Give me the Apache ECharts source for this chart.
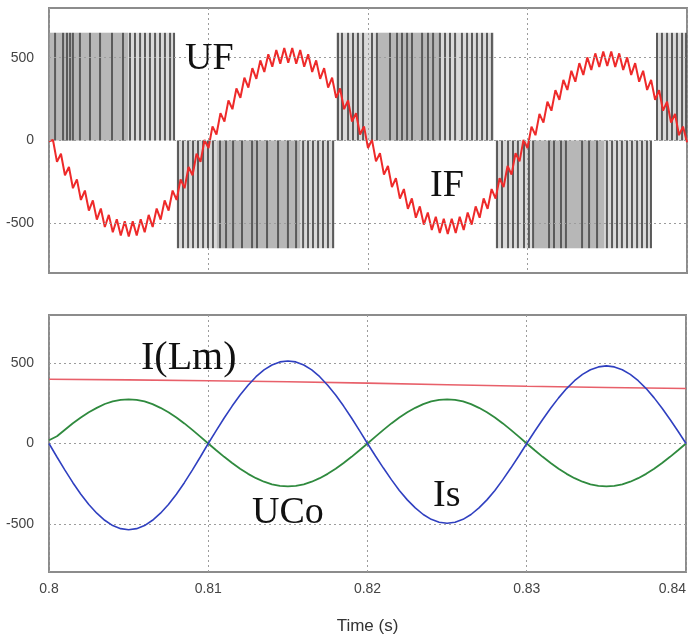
<!DOCTYPE html>
<html>
<head>
<meta charset="utf-8">
<script src="https://cdn.jsdelivr.net/npm/echarts@6/dist/echarts.min.js"></script>
<style>
html, body { margin: 0; padding: 0; background: #fff; }
#main { width: 689px; height: 637px; }
</style>
</head>
<body>
<div id="main"></div>
<script>
// time base of the sampled waveforms
const tStart = 0.8;
const tEnd = 0.84;
const ifStep = 0.00025;
const slowStep = 0.0005;
const yTicks = [-500, 0, 500];

// UF: pwm half cycles [start, end, level] and the dense middle parts
const ufLevel = 650;
const ufBlocks = [
    [0.8, 0.8079, 650],
    [0.8080, 0.8179, -650],
    [0.8180, 0.8279, 650],
    [0.8280, 0.8378, -650],
    [0.8381, 0.84, 650]
];
const ufDense = [
    [0.8, 0.80495, 650],
    [0.81053, 0.81574, -650],
    [0.82063, 0.82451, 650],
    [0.83041, 0.83480, -650]
];
// pulse edges (s)
const ufPulsePos = [
    0.80038, 0.80088, 0.80113, 0.80132, 0.8015, 0.80194, 0.80257, 0.8032, 0.80395, 0.80464,
    0.80508, 0.80539, 0.80571, 0.80602, 0.80633, 0.80665, 0.80696, 0.80727, 0.80759, 0.80784,
    0.81812, 0.81837, 0.81875, 0.81906, 0.81937, 0.81969, 0.82025, 0.82056, 0.82138, 0.82182,
    0.82213, 0.82245, 0.82276, 0.82339, 0.82376, 0.82408, 0.82451, 0.82483, 0.82514, 0.82546,
    0.82589, 0.82621, 0.82652, 0.82683, 0.82715, 0.82746, 0.82777,
    0.83812, 0.83843, 0.83875, 0.83906, 0.83937, 0.83969, 0.83994
];
const ufPulseNeg = [
    0.80809, 0.8084, 0.80872, 0.80903, 0.80934, 0.80966, 0.80997, 0.81028, 0.81072, 0.8111,
    0.81154, 0.8121, 0.81273, 0.81304, 0.81367, 0.81436, 0.81498, 0.81549, 0.81593, 0.81624,
    0.81655, 0.81687, 0.81718, 0.81749, 0.81781,
    0.82809, 0.8284, 0.82878, 0.82909, 0.8294, 0.82978, 0.83009, 0.83035, 0.83135, 0.83166,
    0.8321, 0.83241, 0.83342, 0.83386, 0.83436, 0.83498, 0.8353, 0.83561, 0.83592, 0.83624,
    0.83655, 0.83687, 0.83718, 0.83749, 0.83774
];

// IF, one value every ifStep
const ifValues = [
    -5, 3, -129, -80, -210, -160, -288, -235, -359, -302, -423,
    -362, -478, -411, -522, -449, -554, -475, -573, -488, -580,
    -488, -573, -475, -554, -449, -522, -411, -478, -362, -423,
    -302, -359, -235, -288, -160, -210, -80, -129, 3, -45,
    85, 36, 165, 114, 242, 189, 314, 258, 379, 319,
    437, 372, 484, 414, 521, 445, 546, 464, 558, 470,
    558, 464, 546, 445, 521, 414, 484, 372, 437, 319,
    379, 258, 314, 189, 242, 114, 165, 36, 85, -45,
    4, -126, -76, -206, -154, -281, -227, -351, -293, -413,
    -350, -466, -398, -508, -435, -540, -461, -559, -473, -565,
    -473, -559, -461, -540, -435, -508, -398, -466, -350, -413,
    -293, -351, -227, -281, -154, -206, -76, -126, 4, -45,
    84, 32, 161, 108, 234, 180, 304, 246, 366, 305,
    421, 355, 467, 396, 502, 426, 526, 444, 538, 450,
    538, 444, 526, 426, 502, 396, 467, 355, 421, 305,
    366, 246, 304, 180, 234, 108, 161, 32, 84, -10
];

// Is and UCo, one value every slowStep
const isValues = [
    0, -84, -166, -244, -316, -380, -434, -478, -511, -530, -537, -530, -511, -478, -434, -380, -316, -244, -166, -84, 0,
    80, 159, 233, 302, 363, 416, 458, 489, 508, 514, 508, 489, 458, 416, 363, 302, 233, 159, 80, 0,
    -78, -153, -225, -292, -351, -401, -442, -472, -490, -496, -490, -472, -442, -401, -351, -292, -225, -153, -78, 0,
    76, 149, 219, 284, 342, 391, 430, 459, 477, 483, 477, 459, 430, 391, 342, 284, 219, 149, 76, 0
];
const ucoValues = [
    20, 45, 86, 126, 162, 195, 222, 246, 262, 272, 275, 272, 262, 245, 222, 194, 162, 125, 85, 43, 0,
    -42, -83, -121, -157, -189, -216, -238, -254, -264, -267, -264, -254, -238, -216, -189, -157, -121, -83, -42, 0,
    43, 85, 125, 162, 194, 222, 245, 262, 272, 275, 272, 262, 245, 222, 194, 162, 125, 85, 43, 0,
    -42, -83, -121, -157, -189, -216, -238, -254, -264, -267, -264, -254, -238, -216, -189, -157, -121, -83, -42, 0
];

// I(Lm)
const lmTimes = [0.8, 0.805, 0.81, 0.815, 0.82, 0.825, 0.83, 0.835, 0.84];
const lmValues = [400, 396, 391, 384, 376, 366, 356, 349, 342];

function sampled(values, step) {
    return values.map((v, i) => [tStart + i * step, v]);
}

function renderBlock(params, api) {
    const p0 = api.coord([api.value(0), 0]);
    const p1 = api.coord([api.value(1), api.value(2)]);
    return {
        type: 'rect',
        shape: { x: p0[0], y: Math.min(p0[1], p1[1]), width: p1[0] - p0[0], height: Math.abs(p1[1] - p0[1]) },
        style: { fill: api.visual('color') }
    };
}

function renderPulse(params, api) {
    const a = api.coord([api.value(0), 0]);
    const b = api.coord([api.value(0), api.value(1)]);
    return {
        type: 'line',
        shape: { x1: a[0], y1: a[1], x2: b[0], y2: b[1] },
        style: { stroke: '#5a5a5a', lineWidth: 2 }
    };
}

const grayText = '#444';
const gridDash = { color: '#9c9c9c', type: [2, 3], width: 1 };

function yAxisFor(idx) {
    return {
        type: 'value', gridIndex: idx, min: -800, max: 800, interval: 100,
        axisLine: { show: false }, axisTick: { show: false }, splitLine: { show: false },
        axisLabel: {
            color: grayText, fontSize: 14, fontFamily: 'Liberation Sans', margin: 15,
            formatter: v => (yTicks.indexOf(v) >= 0 ? String(v) : '')
        }
    };
}

function gridLines(idx) {
    return {
        type: 'line', xAxisIndex: idx, yAxisIndex: idx, data: [], z: 1, silent: true,
        markLine: {
            symbol: ['none', 'none'], silent: true, animation: false,
            label: { show: false }, lineStyle: gridDash,
            data: yTicks.map(v => ({ yAxis: v }))
        }
    };
}

function serifLabel(text, left, top, size) {
    return {
        type: 'text', left: left, top: top, z: 10,
        style: { text: text, font: size + 'px "Liberation Serif"', fill: '#111' }
    };
}

const myChart = echarts.init(document.getElementById('main'));
myChart.setOption({
    animation: false,
    backgroundColor: '#fff',
    grid: [
        { left: 49, right: 2, top: 8, height: 265, show: true, borderColor: '#8c8c8c', borderWidth: 2, backgroundColor: 'transparent' },
        { left: 49, right: 2, top: 315, height: 257, show: true, borderColor: '#8c8c8c', borderWidth: 2, backgroundColor: 'transparent' }
    ],
    xAxis: [
        {
            type: 'value', gridIndex: 0, min: tStart, max: tEnd, interval: 0.01,
            axisLine: { show: false }, axisTick: { show: false }, axisLabel: { show: false },
            splitLine: { show: true, lineStyle: gridDash }
        },
        {
            type: 'value', gridIndex: 1, min: tStart, max: tEnd, interval: 0.01,
            axisLine: { show: false }, axisTick: { show: false },
            splitLine: { show: true, lineStyle: gridDash },
            axisLabel: { color: grayText, fontSize: 14, fontFamily: 'Liberation Sans', margin: 10, alignMaxLabel: 'right' },
            name: 'Time (s)', nameLocation: 'middle', nameGap: 46,
            nameTextStyle: { color: '#333', fontSize: 17, fontFamily: 'Liberation Sans' }
        }
    ],
    yAxis: [yAxisFor(0), yAxisFor(1)],
    graphic: [
        serifLabel('UF', 185, 40, 38),
        serifLabel('IF', 430, 167, 38),
        serifLabel('I(Lm)', 141, 338, 40),
        serifLabel('UCo', 252, 494, 38),
        serifLabel('Is', 433, 477, 38)
    ],
    series: [
        gridLines(0),
        gridLines(1),
        {
            name: 'UF', type: 'custom', xAxisIndex: 0, yAxisIndex: 0, z: 2, silent: true,
            renderItem: renderBlock, encode: { x: [0, 1], y: 2 },
            itemStyle: { color: 'rgba(160,160,160,0.4)' },
            data: ufBlocks
        },
        {
            name: 'UF dense', type: 'custom', xAxisIndex: 0, yAxisIndex: 0, z: 2, silent: true,
            renderItem: renderBlock, encode: { x: [0, 1], y: 2 },
            itemStyle: { color: 'rgba(150,150,150,0.5)' },
            data: ufDense
        },
        {
            name: 'UF pulses', type: 'custom', xAxisIndex: 0, yAxisIndex: 0, z: 3, silent: true,
            renderItem: renderPulse, encode: { x: 0, y: 1 },
            data: ufPulsePos.map(t => [t, ufLevel]).concat(ufPulseNeg.map(t => [t, -ufLevel]))
        },
        {
            name: 'IF', type: 'line', xAxisIndex: 0, yAxisIndex: 0, z: 4, showSymbol: false,
            lineStyle: { color: '#ee2a2a', width: 2 },
            data: sampled(ifValues, ifStep)
        },
        {
            name: 'I(Lm)', type: 'line', xAxisIndex: 1, yAxisIndex: 1, z: 4, showSymbol: false,
            lineStyle: { color: '#e8606a', width: 1.6 },
            data: lmTimes.map((t, i) => [t, lmValues[i]])
        },
        {
            name: 'UCo', type: 'line', xAxisIndex: 1, yAxisIndex: 1, z: 4, showSymbol: false,
            lineStyle: { color: '#2f8a3e', width: 1.8 },
            data: sampled(ucoValues, slowStep)
        },
        {
            name: 'Is', type: 'line', xAxisIndex: 1, yAxisIndex: 1, z: 5, showSymbol: false,
            lineStyle: { color: '#3040c0', width: 1.6 },
            data: sampled(isValues, slowStep)
        }
    ]
});
</script>
</body>
</html>
